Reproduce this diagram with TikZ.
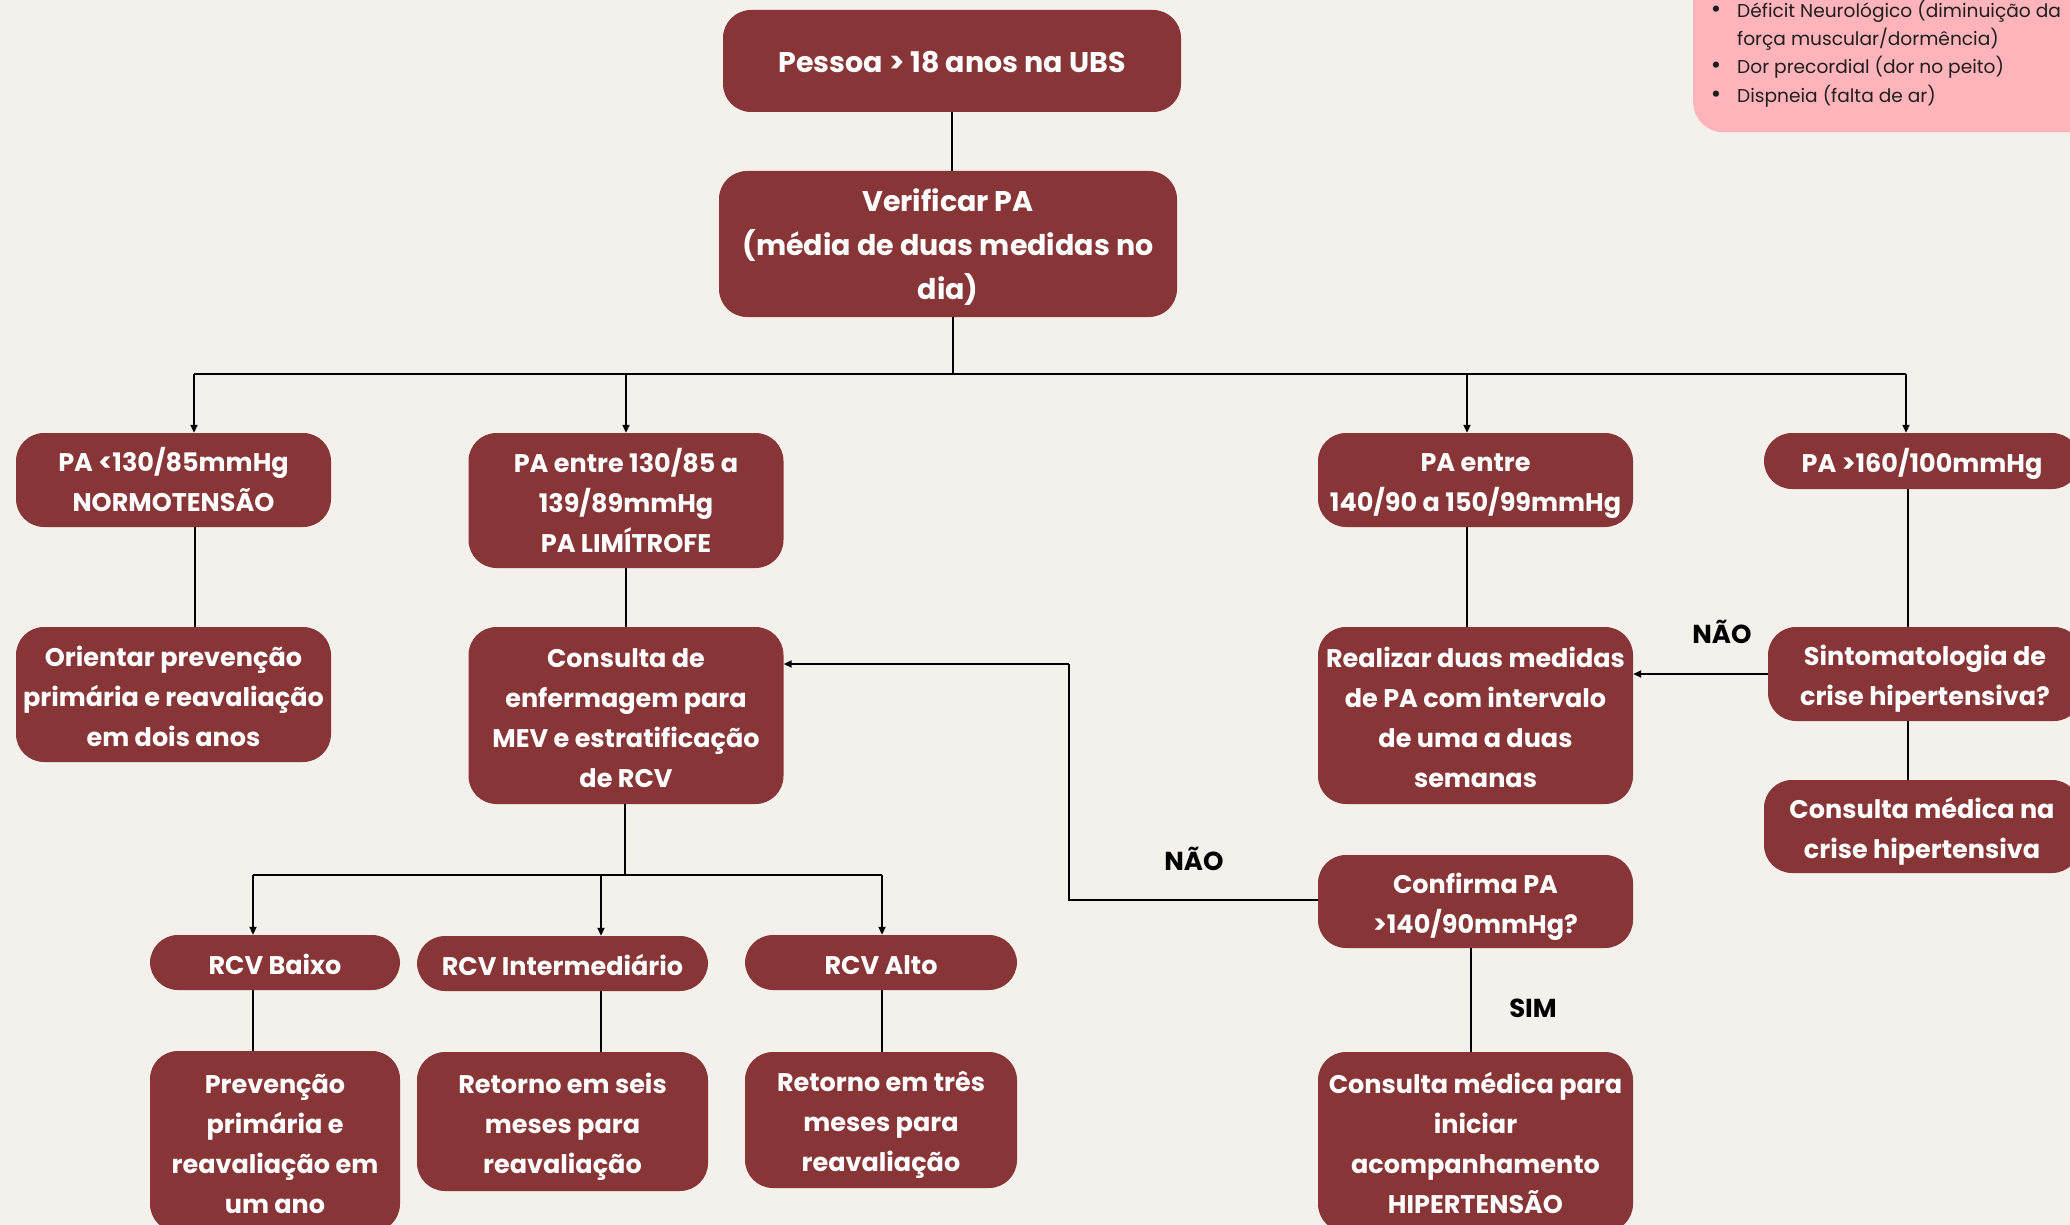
\documentclass[tikz,border=0pt]{standalone}
\usepackage{fontspec}
\setmainfont{Poppins}
\usetikzlibrary{arrows.meta}
\definecolor{boxred}{RGB}{135,53,54}
\definecolor{bgc}{RGB}{244,241,236}
\definecolor{pinkc}{RGB}{255,179,187}
\definecolor{notetext}{RGB}{30,30,30}
\newcommand{\boxfont}{\fontsize{25.5}{40}\selectfont\bfseries}
\newcommand{\bigboxfont}{\fontsize{28.5}{44}\selectfont\bfseries}
\newcommand{\labfont}{\fontsize{26}{30}\selectfont\bfseries}
\newcommand{\notefont}{\fontsize{18.6}{28}\selectfont}
\begin{document}
\begin{tikzpicture}[x=1pt,y=-1pt,
  box/.style={fill=boxred, rounded corners=28pt, text=white, align=center, inner sep=0pt, font=\boxfont, text depth=0pt},
  l1/.style={text height=23pt},
  l2/.style={text height=63pt},
  l3/.style={text height=103pt},
  l4/.style={text height=143pt},
  conn/.style={draw=black, line width=1.8pt},
  arr/.style={conn, -{Triangle[length=8pt,width=7pt]}},
  lab/.style={font=\labfont, text=black, inner sep=0pt},
  note/.style={font=\notefont, text=notetext, anchor=base west, inner sep=0pt}]
\useasboundingbox (0,0) rectangle (2070,1225);
\clip (0,0) rectangle (2070,1225);
\fill[bgc] (0,0) rectangle (2070,1225);

% note box
\node[fill=pinkc, rounded corners=30pt, minimum width=420pt, minimum height=172pt, anchor=north west, inner sep=0pt] (notes) at (1693,-40) {};
\node[note] (n1) at (1737,18) {Déficit Neurológico (diminuição da};
\node[note] (n2) at (1737,46) {força muscular/dormência)};
\node[note] (n3) at (1737,74) {Dor precordial (dor no peito)};
\node[note] (n4) at (1737,103) {Dispneia (falta de ar)};
\node[note, anchor=base] (d1) at (1716,18) {\scalebox{1.35}{•}};
\node[note, anchor=base] (d3) at (1716,74) {\scalebox{1.35}{•}};
\node[note, anchor=base] (d4) at (1716,103) {\scalebox{1.35}{•}};

% boxes
\node[box, text height=24pt, font=\bigboxfont, minimum width=458pt, minimum height=102pt] (pessoa) at (952,61) {Pessoa > 18 anos na UBS};
\node[box, text height=111pt, font=\bigboxfont, minimum width=458pt, minimum height=146pt] (verif) at (948,244) {Verificar PA\\(média de duas medidas no\\dia)};

\node[box, l2, minimum width=315pt, minimum height=94pt] (norm) at (173.5,480) {PA <130/85mmHg\\NORMOTENSÃO};
\node[box, l3, minimum width=315pt, minimum height=135pt] (lim) at (626,500.5) {PA entre 130/85 a\\139/89mmHg\\PA LIMÍTROFE};
\node[box, l2, minimum width=315pt, minimum height=94pt] (est) at (1475.5,480) {PA entre\\140/90 a 150/99mmHg};
\node[box, l1, minimum width=316pt, minimum height=56pt] (crise) at (1922,461) {PA >160/100mmHg};

\node[box, l3, minimum width=315pt, minimum height=135pt] (orient) at (173.5,694.5) {Orientar prevenção\\primária e reavaliação\\em dois anos};
\node[box, l4, minimum width=315pt, minimum height=177pt] (cons) at (626,715.5) {Consulta de\\enfermagem para\\MEV e estratificação\\de RCV};
\node[box, l4, minimum width=315pt, minimum height=177pt] (real) at (1475.5,715.5) {Realizar duas medidas\\de PA com intervalo\\de uma a duas\\semanas};
\node[box, l2, minimum width=314pt, minimum height=94pt] (sint) at (1925,674) {Sintomatologia de\\crise hipertensiva?};
\node[box, l2, minimum width=316pt, minimum height=93pt] (cmcrise) at (1922,826.5) {Consulta médica na\\crise hipertensiva};

\node[box, l2, minimum width=315pt, minimum height=93pt] (conf) at (1475.5,901.5) {Confirma PA\\>140/90mmHg?};
\node[box, l4, minimum width=315pt, minimum height=180pt] (cmini) at (1475.5,1142) {Consulta médica para\\iniciar\\acompanhamento\\HIPERTENSÃO};

\node[box, l1, minimum width=250pt, minimum height=55pt] (baixo) at (275,962.5) {RCV Baixo};
\node[box, l1, minimum width=291pt, minimum height=55pt] (inter) at (562.5,963.5) {RCV Intermediário};
\node[box, l1, minimum width=272pt, minimum height=55pt] (alto) at (881,962.5) {RCV Alto};

\node[box, l4, minimum width=250pt, minimum height=181pt] (prev) at (275,1141.5) {Prevenção\\primária e\\reavaliação em\\um ano};
\node[box, l3, minimum width=291pt, minimum height=139pt] (r6) at (562.5,1121.5) {Retorno em seis\\meses para\\reavaliação};
\node[box, l3, minimum width=272pt, minimum height=136pt] (r3) at (881,1120) {Retorno em três\\meses para\\reavaliação};

% labels
\node[lab] (nao1) at (1722,632) {NÃO};
\node[lab] (nao2) at (1194,859) {NÃO};
\node[lab] (sim) at (1533,1008) {SIM};

% helper coordinates
\coordinate (busC) at (953,374);
\coordinate (a1) at (194,374);
\coordinate (a2) at (626,374);
\coordinate (a3) at (1467,374);
\coordinate (a4) at (1906,374);
\coordinate (v1) at (195,0);
\coordinate (v4) at (1908,0);
\coordinate (loopB) at (1069,900);
\coordinate (loopT) at (1069,664);
\coordinate (bus2C) at (625,875);
\coordinate (b1) at (253,875);
\coordinate (b2) at (601,875);
\coordinate (b3) at (882,875);
\coordinate (s1) at (1471,0);

% connectors
\draw[conn] (pessoa.south) -- (pessoa.south |- verif.north);
\draw[conn] (verif.south -| busC) -- (busC);
\draw[conn] (a1) -- (a4);
\draw[arr] (a1) -- (a1 |- norm.north);
\draw[arr] (a2) -- (a2 |- lim.north);
\draw[arr] (a3) -- (a3 |- est.north);
\draw[arr] (a4) -- (a4 |- crise.north);

\draw[conn] (norm.south -| v1) -- (orient.north -| v1);
\draw[conn] (lim.south) -- (cons.north);
\draw[conn] (est.south -| a3) -- (real.north -| a3);
\draw[conn] (crise.south -| v4) -- (sint.north -| v4);
\draw[conn] (sint.south -| v4) -- (cmcrise.north -| v4);
\draw[arr] (sint.west |- 0,674) -- (real.east |- 0,674);

\draw[conn] (conf.west |- loopB) -- (loopB) -- (loopT);
\draw[arr] (loopT) -- (cons.east |- loopT);
\draw[conn] (conf.south -| s1) -- (cmini.north -| s1);

\draw[conn] (cons.south -| bus2C) -- (bus2C);
\draw[conn] (b1) -- (b3);
\draw[arr] (b1) -- (b1 |- baixo.north);
\draw[arr] (b2) -- (b2 |- inter.north);
\draw[arr] (b3) -- (b3 |- alto.north);
\draw[conn] (baixo.south -| b1) -- (prev.north -| b1);
\draw[conn] (inter.south -| b2) -- (r6.north -| b2);
\draw[conn] (alto.south -| b3) -- (r3.north -| b3);
\end{tikzpicture}
\end{document}
